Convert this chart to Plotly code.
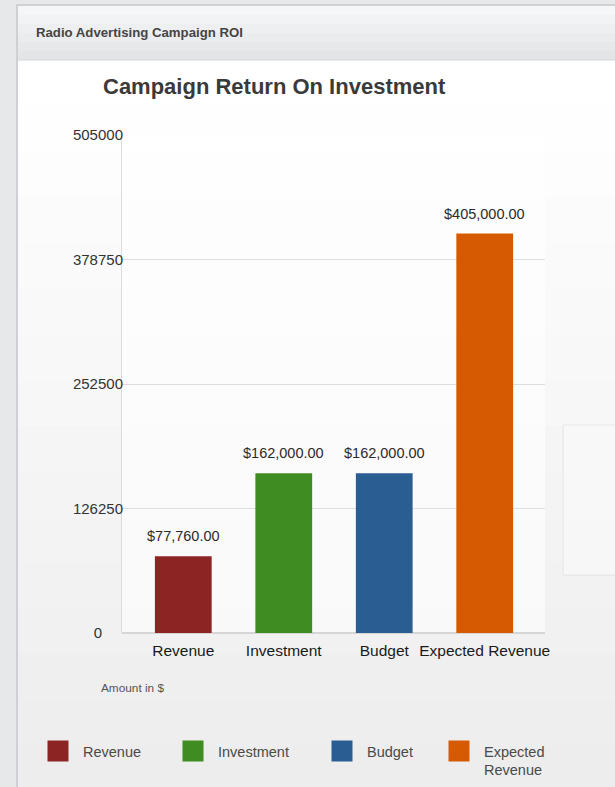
import plotly.graph_objects as go

categories = ["Revenue", "Investment", "Budget", "Expected Revenue"]
legend_names = ["Revenue", "Investment", "Budget", "Expected<br>Revenue"]
values = [77760, 162000, 162000, 405000]
colors = ["#8c2424", "#3e8c22", "#2a5e93", "#d65a02"]
y_ticks = [0, 126250, 252500, 378750, 505000]

W, H = 615, 787
L, R, T, B = 122, 70, 135, 154  # plot area: x 122..545, y 135..633
pw = W - L - R
ph = H - T - B
FONT = "Liberation Sans"


def px(x):
    return (x - L) / pw


def py(y):
    return (H - B - y) / ph


# centre the tick labels on a common column (pad short ones with figure spaces)
maxlen = max(len(str(t)) for t in y_ticks)
tick_text = []
for t in y_ticks:
    s = str(t)
    pad = maxlen - len(s)
    tick_text.append(s + "\u2007" * (pad // 2) + ("\u2008" if pad % 2 else ""))

fig = go.Figure()
legend_x = [45, 180, 329, 446]
legend_keys = ["legend", "legend2", "legend3", "legend4"]
for i, (cat, name, v, c) in enumerate(zip(categories, legend_names, values, colors)):
    fig.add_trace(go.Bar(
        x=[cat], y=[v], name=name, marker=dict(color=c, line=dict(width=0)),
        width=0.565, showlegend=False, hoverinfo="x+y",
    ))
    fig.add_trace(go.Scatter(
        x=[None], y=[None], mode="markers", name=name, legend=legend_keys[i],
        marker=dict(symbol="square", size=16, color=c, line=dict(color=c, width=5)),
    ))

shapes = []
shapes.append(dict(type="rect", xref="paper", yref="paper", x0=px(-5), x1=px(W + 5), y0=py(H + 5), y1=py(-5),
                   fillcolor="#e7e8ea", line=dict(width=0), layer="below"))
n = 16
top, bot = 60, 792
for i in range(n):
    y0 = top + (bot - top) * i / n
    y1 = top + (bot - top) * (i + 1) / n + 1
    t = i / (n - 1)
    g = int(round(255 - t * 18))
    shapes.append(dict(type="rect", xref="paper", yref="paper", x0=px(18), x1=px(W + 5),
                       y0=py(y1), y1=py(y0), fillcolor=f"rgb({g},{g},{g})",
                       line=dict(width=0), layer="below"))
m = 6
for i in range(m):
    y0 = 6 + (60 - 6) * i / m
    y1 = 6 + (60 - 6) * (i + 1) / m + 1
    t = i / (m - 1)
    g = int(round(245 - t * 17))
    shapes.append(dict(type="rect", xref="paper", yref="paper", x0=px(18), x1=px(W + 5),
                       y0=py(min(y1, 60)), y1=py(y0), fillcolor=f"rgb({g},{g+1},{g+3})",
                       line=dict(width=0), layer="below"))
shapes.append(dict(type="rect", xref="paper", yref="paper", x0=px(17), x1=px(W + 5),
                   y0=py(H + 5), y1=py(5), line=dict(color="#c6c8cb", width=1.5),
                   fillcolor="rgba(0,0,0,0)", layer="below"))
shapes.append(dict(type="line", xref="paper", yref="paper", x0=px(18), x1=px(W + 5),
                   y0=py(60), y1=py(60), line=dict(color="#d3d5d8", width=1), layer="below"))
shapes.append(dict(type="rect", xref="paper", yref="paper", x0=0, x1=1, y0=0, y1=1,
                   fillcolor="rgba(255,255,255,0.6)", line=dict(width=0), layer="below"))
shapes.append(dict(type="rect", xref="paper", yref="paper", x0=px(563), x1=px(W + 5),
                   y0=py(575), y1=py(425), fillcolor="rgba(250,250,250,0.6)",
                   line=dict(color="rgba(222,222,222,0.7)", width=1), layer="below"))

annotations = [
    dict(text="<b>Radio Advertising Campaign ROI</b>", xref="paper", yref="paper",
         x=px(34), y=py(32), xanchor="left", yanchor="middle", showarrow=False,
         font=dict(size=13.2, color="#454545", family=FONT)),
    dict(text="<b>Campaign Return On Investment</b>", xref="paper", yref="paper",
         x=px(101), y=py(87), xanchor="left", yanchor="middle", showarrow=False,
         font=dict(size=22, color="#3a3a3a", family=FONT)),
    dict(text="Amount in $", xref="paper", yref="paper",
         x=px(99), y=py(688), xanchor="left", yanchor="middle", showarrow=False,
         font=dict(size=11.8, color="#555555", family=FONT)),
]
for cat, v in zip(categories, values):
    annotations.append(dict(
        text=f"${v:,.2f}", x=cat, y=v, xref="x", yref="y", showarrow=False,
        xanchor="center", yanchor="bottom", yshift=10,
        font=dict(size=14.5, color="#2a2a2a", family=FONT)))

legend_common = dict(orientation="h", xanchor="left", yanchor="top", valign="top",
                     font=dict(size=14.5, color="#4a4a4a", family=FONT),
                     bgcolor="rgba(0,0,0,0)", itemsizing="trace", itemwidth=40,
                     itemclick=False, itemdoubleclick=False)
legends = {}
for key, lx in zip(legend_keys, legend_x):
    legends[key] = dict(legend_common, x=px(lx - 12), y=py(735))

fig.update_layout(
    width=W, height=H,
    margin=dict(l=L, r=R, t=T, b=B, autoexpand=False),
    paper_bgcolor="#e7e8ea", plot_bgcolor="rgba(0,0,0,0)",
    barmode="overlay",
    font=dict(family=FONT, color="#222222"),
    shapes=shapes, annotations=annotations,
    xaxis=dict(type="category", categoryorder="array", categoryarray=categories,
               range=[-0.61, 3.6], showgrid=False, showline=False, ticks="",
               ticklabelstandoff=6,
               tickfont=dict(size=15.5, color="#1a1a1a"), fixedrange=True),
    yaxis=dict(range=[0, 505000], tickvals=y_ticks, ticktext=tick_text,
               showgrid=True, gridcolor="#dedede", gridwidth=1, zeroline=True,
               zerolinecolor="#d6d6d6", showline=True, linecolor="#dcdcdc",
               ticks="", ticklabelstandoff=-5, fixedrange=True,
               tickfont=dict(size=15, color="#333333")),
    **legends,
)

fig.write_html("out.html", config={"displayModeBar": False},
               post_script="document.body.style.margin='0';document.body.style.overflow='hidden';")
